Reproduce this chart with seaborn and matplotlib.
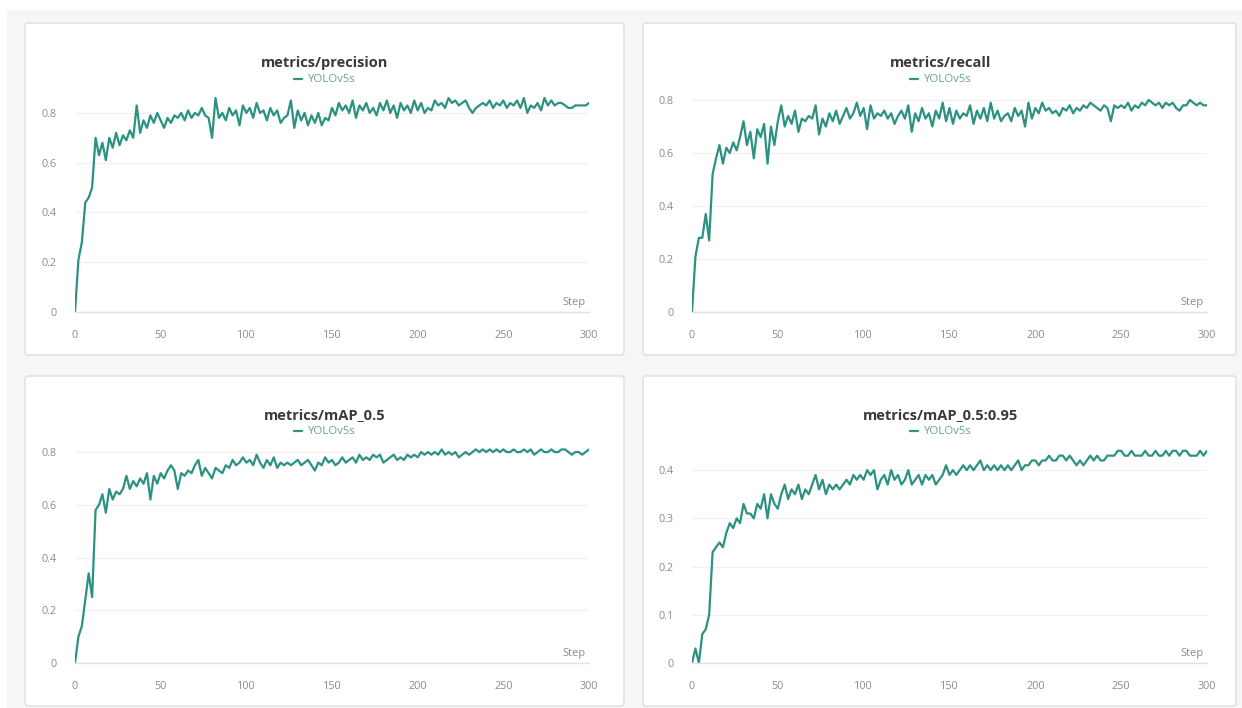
import matplotlib
matplotlib.use("Agg")
import matplotlib.pyplot as plt
import numpy as np
import pandas as pd
import seaborn as sns
from matplotlib.patches import FancyBboxPatch, Rectangle

# ---------------- data ----------------
steps = list(range(0, 301, 2))

precision = [
    0.00, 0.21, 0.28, 0.44, 0.46, 0.50, 0.70, 0.63, 0.68, 0.61,
    0.70, 0.66, 0.72, 0.67, 0.71, 0.69, 0.73, 0.70, 0.83, 0.72,
    0.77, 0.74, 0.79, 0.76, 0.80, 0.77, 0.74, 0.78, 0.76, 0.79,
    0.78, 0.80, 0.77, 0.81, 0.78, 0.80, 0.79, 0.82, 0.79, 0.78,
    0.70, 0.86, 0.78, 0.80, 0.77, 0.82, 0.79, 0.81, 0.75, 0.83,
    0.80, 0.82, 0.78, 0.84, 0.80, 0.81, 0.77, 0.82, 0.79, 0.81,
    0.76, 0.78, 0.79, 0.85, 0.74, 0.81, 0.77, 0.80, 0.75, 0.79,
    0.76, 0.80, 0.75, 0.78, 0.77, 0.82, 0.79, 0.84, 0.81, 0.83,
    0.80, 0.85, 0.78, 0.83, 0.81, 0.84, 0.80, 0.82, 0.79, 0.84,
    0.81, 0.85, 0.80, 0.83, 0.78, 0.84, 0.81, 0.83, 0.80, 0.85,
    0.81, 0.84, 0.80, 0.82, 0.81, 0.85, 0.83, 0.84, 0.82, 0.86,
    0.84, 0.85, 0.83, 0.84, 0.85, 0.82, 0.80, 0.82, 0.83, 0.84,
    0.83, 0.85, 0.82, 0.84, 0.83, 0.85, 0.82, 0.84, 0.83, 0.85,
    0.82, 0.86, 0.80, 0.83, 0.82, 0.84, 0.81, 0.86, 0.83, 0.85,
    0.83, 0.84, 0.84, 0.83, 0.82, 0.82, 0.83, 0.83, 0.83, 0.83,
    0.84,
]

recall = [
    0.00, 0.21, 0.28, 0.28, 0.37, 0.27, 0.52, 0.58, 0.63, 0.56,
    0.62, 0.60, 0.64, 0.61, 0.66, 0.72, 0.63, 0.68, 0.58, 0.69,
    0.66, 0.71, 0.56, 0.70, 0.63, 0.72, 0.78, 0.70, 0.74, 0.71,
    0.76, 0.68, 0.73, 0.72, 0.74, 0.73, 0.78, 0.67, 0.73, 0.70,
    0.75, 0.72, 0.76, 0.71, 0.74, 0.77, 0.73, 0.75, 0.79, 0.74,
    0.77, 0.69, 0.78, 0.73, 0.75, 0.74, 0.76, 0.73, 0.75, 0.71,
    0.74, 0.76, 0.73, 0.78, 0.68, 0.75, 0.72, 0.77, 0.73, 0.75,
    0.70, 0.76, 0.73, 0.79, 0.72, 0.77, 0.71, 0.76, 0.73, 0.75,
    0.74, 0.78, 0.71, 0.76, 0.73, 0.77, 0.72, 0.79, 0.73, 0.76,
    0.72, 0.74, 0.75, 0.72, 0.77, 0.74, 0.76, 0.70, 0.79, 0.73,
    0.77, 0.75, 0.79, 0.76, 0.77, 0.75, 0.76, 0.74, 0.77, 0.76,
    0.78, 0.75, 0.77, 0.76, 0.78, 0.77, 0.79, 0.78, 0.77, 0.76,
    0.78, 0.77, 0.72, 0.78, 0.77, 0.78, 0.77, 0.79, 0.76, 0.78,
    0.77, 0.79, 0.78, 0.80, 0.79, 0.78, 0.79, 0.77, 0.79, 0.78,
    0.79, 0.77, 0.76, 0.78, 0.78, 0.80, 0.79, 0.78, 0.79, 0.78,
    0.78,
]

map50 = [
    0.00, 0.10, 0.14, 0.24, 0.34, 0.25, 0.58, 0.60, 0.64, 0.57,
    0.66, 0.62, 0.65, 0.64, 0.66, 0.71, 0.66, 0.69, 0.67, 0.70,
    0.68, 0.72, 0.62, 0.71, 0.68, 0.72, 0.70, 0.73, 0.75, 0.73,
    0.66, 0.72, 0.71, 0.73, 0.72, 0.75, 0.77, 0.71, 0.74, 0.72,
    0.70, 0.74, 0.73, 0.72, 0.75, 0.74, 0.77, 0.75, 0.76, 0.78,
    0.76, 0.77, 0.75, 0.79, 0.76, 0.74, 0.77, 0.75, 0.78, 0.74,
    0.76, 0.75, 0.76, 0.75, 0.76, 0.77, 0.75, 0.76, 0.77, 0.75,
    0.73, 0.76, 0.75, 0.78, 0.76, 0.77, 0.75, 0.76, 0.78, 0.76,
    0.77, 0.78, 0.76, 0.79, 0.77, 0.78, 0.77, 0.79, 0.78, 0.79,
    0.76, 0.77, 0.78, 0.79, 0.77, 0.78, 0.77, 0.79, 0.78, 0.79,
    0.78, 0.80, 0.79, 0.80, 0.79, 0.80, 0.79, 0.81, 0.79, 0.80,
    0.79, 0.80, 0.78, 0.79, 0.80, 0.79, 0.80, 0.81, 0.80, 0.81,
    0.80, 0.81, 0.80, 0.81, 0.80, 0.81, 0.80, 0.80, 0.81, 0.80,
    0.80, 0.81, 0.80, 0.81, 0.79, 0.80, 0.81, 0.80, 0.80, 0.81,
    0.80, 0.80, 0.81, 0.81, 0.80, 0.79, 0.80, 0.80, 0.79, 0.80,
    0.81,
]

map5095 = [
    0.00, 0.03, 0.00, 0.06, 0.07, 0.10, 0.23, 0.24, 0.25, 0.24,
    0.27, 0.29, 0.28, 0.30, 0.29, 0.33, 0.31, 0.31, 0.30, 0.33,
    0.32, 0.35, 0.30, 0.35, 0.33, 0.32, 0.35, 0.37, 0.34, 0.36,
    0.35, 0.37, 0.34, 0.36, 0.35, 0.37, 0.39, 0.36, 0.38, 0.35,
    0.37, 0.36, 0.37, 0.36, 0.37, 0.38, 0.37, 0.39, 0.38, 0.39,
    0.38, 0.40, 0.39, 0.40, 0.36, 0.38, 0.39, 0.37, 0.40, 0.38,
    0.39, 0.37, 0.38, 0.40, 0.37, 0.38, 0.39, 0.37, 0.39, 0.38,
    0.39, 0.37, 0.38, 0.39, 0.41, 0.39, 0.40, 0.39, 0.40, 0.41,
    0.40, 0.41, 0.40, 0.41, 0.42, 0.40, 0.41, 0.40, 0.41, 0.40,
    0.41, 0.40, 0.41, 0.40, 0.41, 0.42, 0.40, 0.41, 0.41, 0.42,
    0.42, 0.41, 0.42, 0.42, 0.43, 0.42, 0.42, 0.43, 0.43, 0.42,
    0.43, 0.42, 0.41, 0.42, 0.41, 0.42, 0.43, 0.42, 0.43, 0.42,
    0.42, 0.43, 0.43, 0.43, 0.44, 0.44, 0.43, 0.43, 0.44, 0.43,
    0.43, 0.43, 0.44, 0.43, 0.43, 0.44, 0.43, 0.43, 0.44, 0.43,
    0.44, 0.44, 0.43, 0.44, 0.44, 0.43, 0.43, 0.43, 0.44, 0.43,
    0.44,
]

titles = ["metrics/precision", "metrics/recall", "metrics/mAP_0.5", "metrics/mAP_0.5:0.95"]
run_name = "YOLOv5s"
x_ticks = [0, 50, 100, 150, 200, 250, 300]
x_ticklabels = ["0", "50", "100", "150", "200", "250", "300"]
y_ticks = [
    [0, 0.2, 0.4, 0.6, 0.8],
    [0, 0.2, 0.4, 0.6, 0.8],
    [0, 0.2, 0.4, 0.6, 0.8],
    [0, 0.1, 0.2, 0.3, 0.4],
]
y_ticklabels = [
    ["0", "0.2", "0.4", "0.6", "0.8"],
    ["0", "0.2", "0.4", "0.6", "0.8"],
    ["0", "0.2", "0.4", "0.6", "0.8"],
    ["0", "0.1", "0.2", "0.3", "0.4"],
]
series = [precision, recall, map50, map5095]

# ---------------- style ----------------
sns.set_theme(style="white")
plt.rcParams["font.family"] = ["Open Sans", "DejaVu Sans"]

LINE = "#2b9282"
TICK = "#8c8c8c"
W, H = 1242, 708
fig = plt.figure(figsize=(W / 100, H / 100), dpi=100, facecolor="white")

# page background and cards (pixel coords, origin top-left)
def px_rect(x0, y0, x1, y1):
    return (x0, H - y1, x1 - x0, y1 - y0)

bx, by, bw, bh = px_rect(7, 10, W, H)
fig.add_artist(Rectangle((bx / W, by / H), bw / W, bh / H, transform=fig.transFigure,
                         facecolor="#f6f6f6", edgecolor="none", zorder=-3))

cards = [(25, 23, 624, 355), (643, 23, 1236, 355), (25, 376, 624, 706), (643, 376, 1236, 706)]
axes_px = [(75, 95, 589, 312), (692, 95, 1207, 312), (75, 446, 589, 663), (692, 446, 1207, 663)]
title_px = [(325, 63), (941, 63), (325, 415), (941, 415)]
y_tops = [0.872, 0.819, 0.823, 0.450]

for c in cards:
    x, y, w, h = px_rect(*c)
    fig.add_artist(FancyBboxPatch((x, y), w, h, boxstyle="round,pad=0,rounding_size=3",
                                  transform=None, facecolor="white", edgecolor="#dedede",
                                  linewidth=1.0, zorder=-2))

for i in range(4):
    l, t, r, b = axes_px[i]
    ax = fig.add_axes([l / W, 1 - b / H, (r - l) / W, (b - t) / H])
    ax.set_facecolor("none")
    df = pd.DataFrame({"Step": steps, "value": series[i], "run": run_name})
    sns.lineplot(data=df, x="Step", y="value", hue="run", palette=[LINE],
                 linewidth=1.6, ax=ax, legend=True)
    ax.set_xlim(0, 300)
    ax.set_ylim(0, y_tops[i])
    ax.set_xticks(x_ticks)
    ax.set_xticklabels(x_ticklabels)
    ax.set_yticks(y_ticks[i])
    ax.set_yticklabels(y_ticklabels[i])
    ax.set_xlabel("")
    ax.set_ylabel("")
    for s in ["top", "right", "left"]:
        ax.spines[s].set_visible(False)
    ax.spines["bottom"].set_color("#e2e2e2")
    ax.spines["bottom"].set_linewidth(1.0)
    ax.grid(axis="y", color="#f1f1f1", linewidth=0.9)
    ax.grid(axis="x", visible=False)
    ax.tick_params(axis="y", length=0, pad=13, labelsize=7.8, labelcolor=TICK)
    ax.tick_params(axis="x", direction="in", length=9, width=0.8, color="#ececec",
                   pad=13, labelsize=7.8, labelcolor=TICK)
    ax.annotate("Step", xy=(1, 0), xycoords="axes fraction", xytext=(-3, 4),
                textcoords="offset pixels", ha="right", va="bottom",
                fontsize=8, color=TICK)
    tx, ty = title_px[i]
    fig.text(tx / W, 1 - ty / H, titles[i], ha="center", va="center",
             fontsize=10.5, fontweight="bold", color="#3a3a3a")
    ax.legend(loc="center", bbox_to_anchor=(tx / W, 1 - (ty + 17) / H),
              bbox_transform=fig.transFigure, frameon=False, handlelength=0.7,
              handletextpad=0.5, fontsize=8.2, labelcolor="#62a397",
              borderpad=0, borderaxespad=0)

fig.savefig("out.png", dpi=100, facecolor=fig.get_facecolor())
